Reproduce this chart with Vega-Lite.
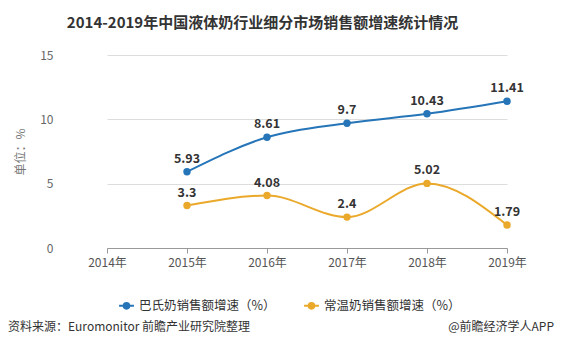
{
  "$schema": "https://vega.github.io/schema/vega-lite/v6.json",
  "width": 489,
  "height": 193,
  "autosize": {"type": "none"},
  "padding": {"left": 58, "top": 55, "right": 15, "bottom": 102},
  "background": "white",
  "config": {
    "font": "Noto Sans CJK SC",
    "view": {"stroke": null}
  },
  "title": {
    "text": "2014-2019年中国液体奶行业细分市场销售额增速统计情况",
    "fontSize": 15,
    "fontWeight": "bold",
    "color": "#333333",
    "anchor": "middle",
    "dx": -40,
    "offset": 18
  },
  "datasets": {
    "growth": [
      {"year": "2015年", "series": "巴氏奶销售额增速（%）", "value": 5.93},
      {"year": "2016年", "series": "巴氏奶销售额增速（%）", "value": 8.61},
      {"year": "2017年", "series": "巴氏奶销售额增速（%）", "value": 9.7},
      {"year": "2018年", "series": "巴氏奶销售额增速（%）", "value": 10.43},
      {"year": "2019年", "series": "巴氏奶销售额增速（%）", "value": 11.41},
      {"year": "2015年", "series": "常温奶销售额增速（%）", "value": 3.3},
      {"year": "2016年", "series": "常温奶销售额增速（%）", "value": 4.08},
      {"year": "2017年", "series": "常温奶销售额增速（%）", "value": 2.4},
      {"year": "2018年", "series": "常温奶销售额增速（%）", "value": 5.02},
      {"year": "2019年", "series": "常温奶销售额增速（%）", "value": 1.79}
    ],
    "notes": [
      {"note": "资料来源：Euromonitor 前瞻产业研究院整理", "side": "left"},
      {"note": "@前瞻经济学人APP", "side": "right"}
    ]
  },
  "layer": [
    {
      "data": {"name": "growth"},
      "mark": {"type": "line", "interpolate": "monotone", "strokeWidth": 2},
      "encoding": {
        "x": {
          "field": "year", "type": "ordinal",
          "scale": {"type": "point", "domain": ["2014年","2015年","2016年","2017年","2018年","2019年"], "range": [49, 449], "padding": 0},
          "axis": {
            "title": null, "labelAngle": 0, "labelFontSize": 12, "labelColor": "#555555",
            "domainColor": "#999999", "tickColor": "#999999", "tickSize": 5, "labelPadding": 4,
            "grid": false
          }
        },
        "y": {
          "field": "value", "type": "quantitative",
          "scale": {"domain": [0, 15], "nice": false},
          "axis": {
            "title": "单位：%", "titleFontSize": 12, "titleFontWeight": "normal", "titleColor": "#777777",
            "titlePadding": 12,
            "values": [0, 5, 10, 15], "labelFontSize": 12, "labelColor": "#666666",
            "domain": false, "ticks": false, "labelPadding": 5,
            "grid": true, "gridColor": "#dddddd"
          }
        },
        "color": {
          "field": "series", "type": "nominal",
          "scale": {"domain": ["巴氏奶销售额增速（%）", "常温奶销售额增速（%）"], "range": ["#2575b8", "#eaa92a"]},
          "legend": {
            "title": null, "orient": "none", "direction": "horizontal",
            "legendX": 60, "legendY": 242,
            "labelFontSize": 12.5, "labelColor": "#333333",
            "symbolType": "M-1,0L1,0M-0.38,0A0.38,0.38 0 1,1 0.38,0A0.38,0.38 0 1,1 -0.38,0",
            "symbolSize": 220, "symbolStrokeWidth": 2, "columnPadding": 24
          }
        }
      }
    },
    {
      "data": {"name": "growth"},
      "mark": {"type": "point", "filled": true, "size": 55, "opacity": 1},
      "encoding": {
        "x": {"field": "year", "type": "ordinal"},
        "y": {"field": "value", "type": "quantitative"},
        "color": {"field": "series", "type": "nominal", "legend": null}
      }
    },
    {
      "data": {"name": "growth"},
      "mark": {"type": "text", "dy": -13, "fontSize": 12.5, "fontWeight": "bold", "color": "#333333"},
      "encoding": {
        "x": {"field": "year", "type": "ordinal"},
        "y": {"field": "value", "type": "quantitative"},
        "text": {"field": "value", "type": "quantitative"}
      }
    },
    {
      "data": {"name": "notes"},
      "transform": [{"filter": "datum.side == 'left'"}],
      "mark": {"type": "text", "align": "left", "baseline": "middle", "fontSize": 12, "color": "#333333"},
      "encoding": {
        "x": {"value": -50},
        "y": {"value": 272},
        "text": {"field": "note"}
      }
    },
    {
      "data": {"name": "notes"},
      "transform": [{"filter": "datum.side == 'right'"}],
      "mark": {"type": "text", "align": "right", "baseline": "middle", "fontSize": 12, "color": "#333333"},
      "encoding": {
        "x": {"value": 496},
        "y": {"value": 272},
        "text": {"field": "note"}
      }
    }
  ]
}
